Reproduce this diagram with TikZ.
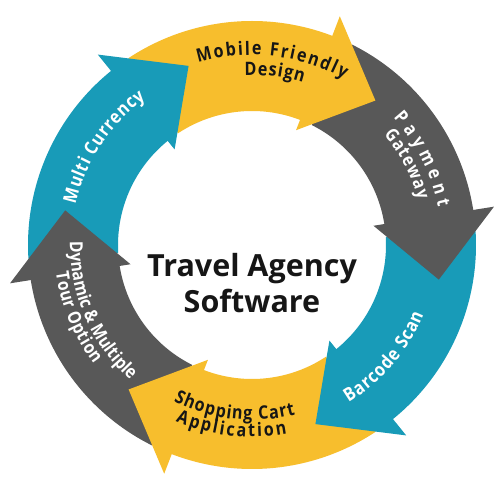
\documentclass[tikz,border=0pt]{standalone}
\usepackage{fontspec}
\setmainfont{Open Sans}
\newfontfamily\lblfam[FakeStretch=0.87]{Open Sans}
\usetikzlibrary{decorations.text}
\definecolor{ayellow}{RGB}{247,190,45}
\definecolor{agray}{RGB}{88,88,88}
\definecolor{ateal}{RGB}{24,155,184}
\definecolor{atext}{RGB}{22,22,22}
\newcommand\ttlfont{\fontsize{30.5}{36}\selectfont\bfseries}
\tikzset{
  lbl/.style n args={3}{decorate, decoration={text along path, text={|\lblfam\fontsize{#3}{20}\selectfont\bfseries|#1}, text align=fit to path, text color=#2}},
  title/.style={font=\ttlfont, text=atext, anchor=base, inner sep=0pt}
}
\begin{document}
\begin{tikzpicture}[x=1pt,y=1pt]
\useasboundingbox (0pt,0pt) rectangle (500pt,500pt);
\fill[white] (0pt,0pt) rectangle (500pt,500pt);
\begin{scope}[shift={(252pt,255pt)}]
  % arrow bodies
  \foreach \k/\c in {0/ateal,1/ayellow,2/agray,3/ateal,4/ayellow,5/agray}{
    \pgfmathsetmacro\aS{183.5-60*\k}
    \pgfmathsetmacro\aW{127-60*\k}
    \fill[\c] (\aS:224pt) arc[start angle=\aS, end angle=\aW, radius=224pt]
      -- (\aW:134pt) arc[start angle=\aW, end angle=\aS, radius=134pt] -- cycle;
  }
  % arrow heads
  \foreach \k/\c in {0/ateal,1/ayellow,2/agray,3/ateal,4/ayellow,5/agray}{
    \pgfmathsetmacro\aW{129-60*\k}
    \pgfmathsetmacro\aT{109.5-60*\k}
    \fill[\c] (\aW:245pt) -- (\aT:190pt) -- (\aW:123pt) -- cycle;
  }
  % labels
  \path[lbl={Multi Currency}{white}{18.5}] (167:181pt) arc[start angle=167, end angle=126, radius=181pt];
  \path[lbl={Mobile Friendly}{atext}{18.5}] (106.5:190pt) arc[start angle=106.5, end angle=61, radius=190pt];
  \path[lbl={Design}{atext}{18.5}] (92.5:170pt) arc[start angle=92.5, end angle=72.5, radius=170pt];
  \path[lbl={Payment}{white}{18.5}] (42:190pt) arc[start angle=42, end angle=11.5, radius=190pt];
  \path[lbl={Gateway}{white}{18}] (40:172pt) arc[start angle=40, end angle=15, radius=172pt];
  \path[lbl={Barcode Scan}{white}{18.5}] (-58.5:185pt) arc[start angle=-58.5, end angle=-22, radius=185pt];
  \path[lbl={Shopping Cart}{atext}{18.5}] (-116.6:175pt) arc[start angle=-116.6, end angle=-75.6, radius=175pt];
  \path[lbl={Application}{atext}{18.5}] (-113.4:192pt) arc[start angle=-113.4, end angle=-79.5, radius=192pt];
  \path[lbl={Dynamic {\&} Multiple}{white}{18}] (179:182pt) arc[start angle=179, end angle=228, radius=182pt];
  \path[lbl={Tour Option}{white}{18}] (188:198pt) arc[start angle=188, end angle=217, radius=198pt];
\end{scope}
\node[title] (t1) at (252pt,223pt) {Travel Agency};
\node[title] (t2) at (252pt,187pt) {Software};
\end{tikzpicture}
\end{document}
